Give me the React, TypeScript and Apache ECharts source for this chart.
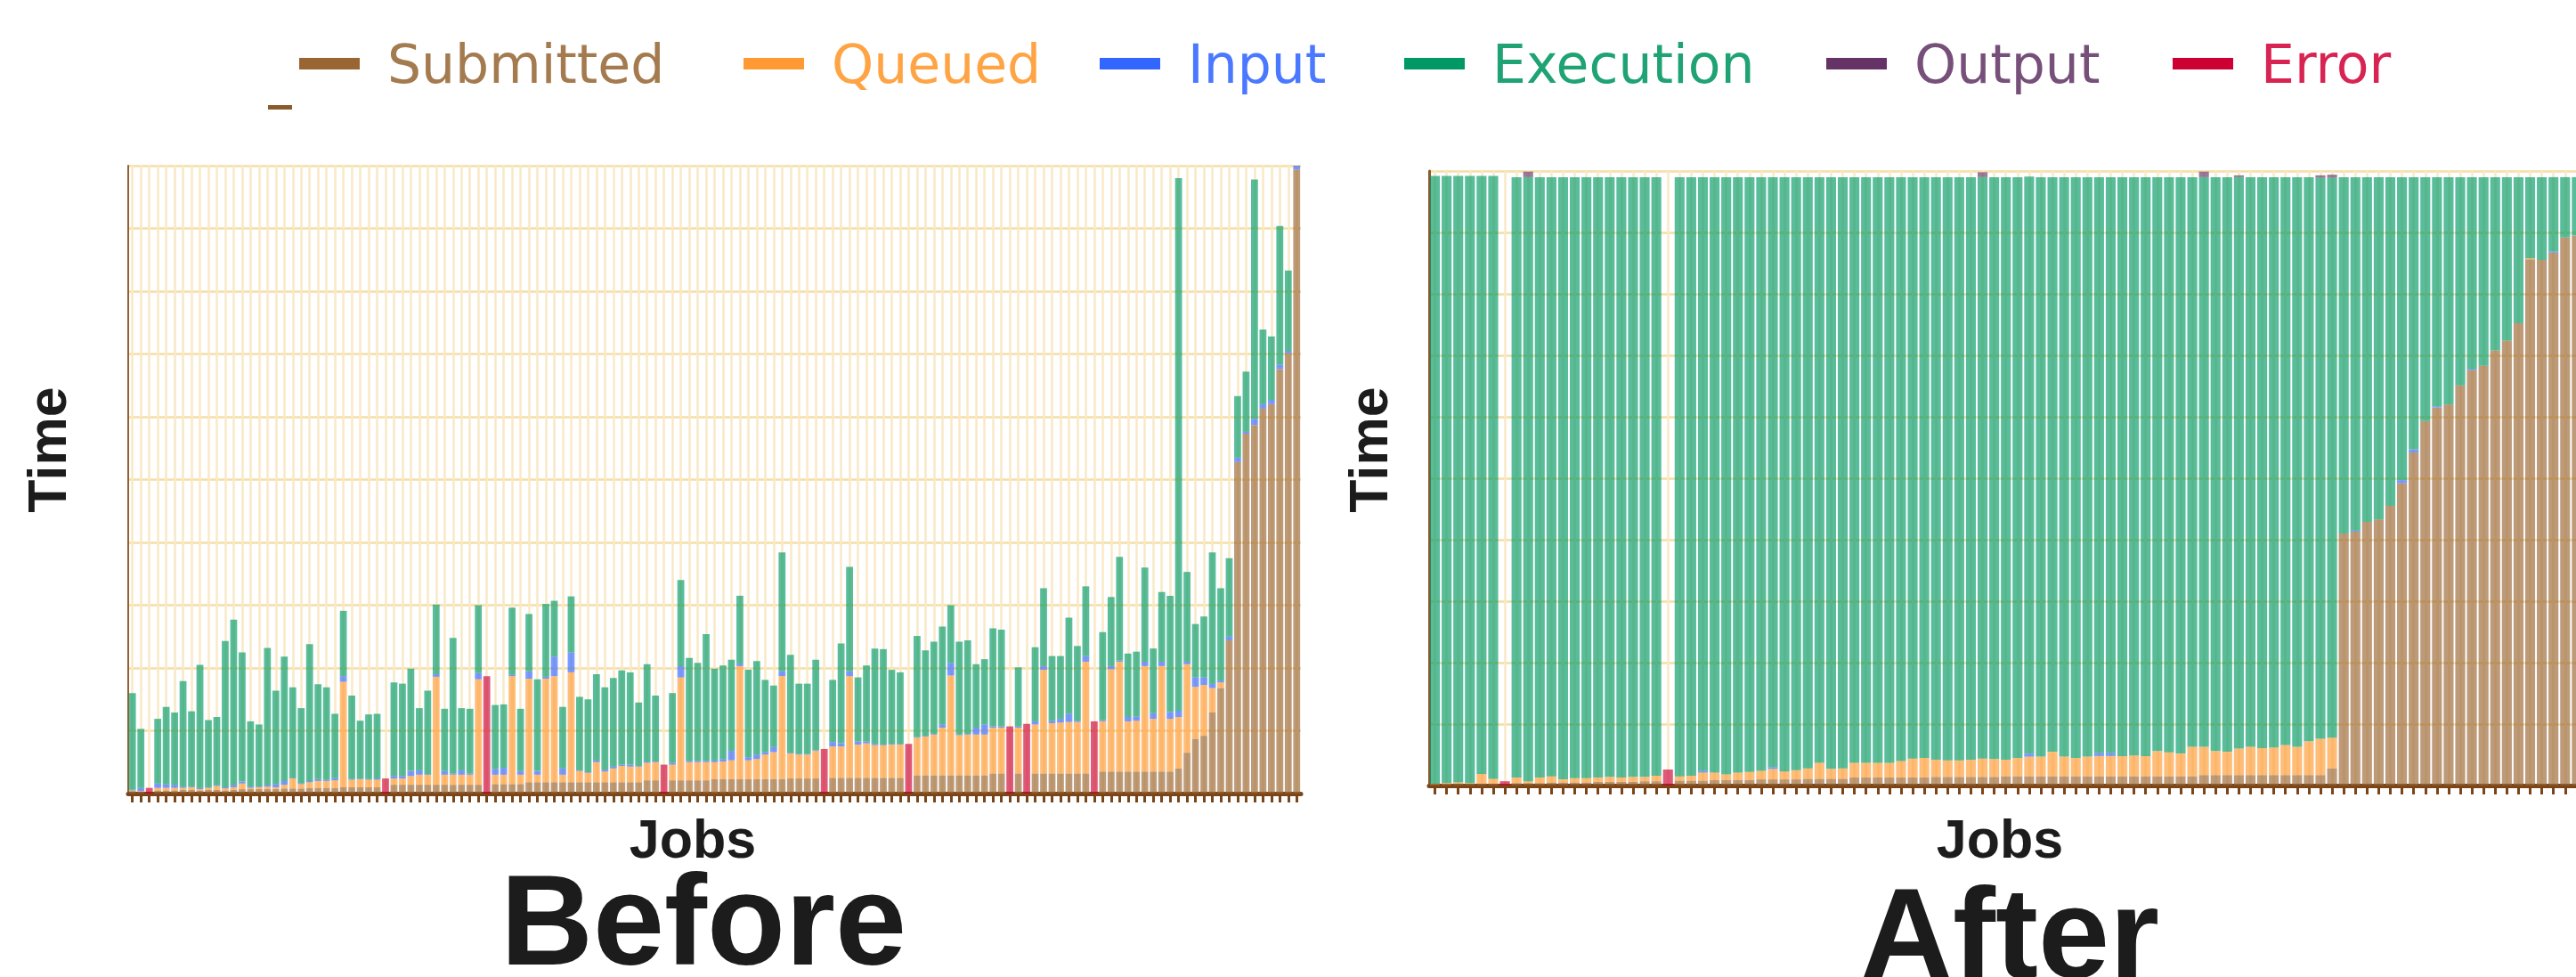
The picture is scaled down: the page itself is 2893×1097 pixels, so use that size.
import React, { useEffect, useRef } from "react";
import * as echarts from "echarts";

const STAGES = ["Submitted", "Queued", "Input", "Execution", "Output", "Error"];
const STAGE_COLORS = ["#996633", "#ff9933", "#3366ff", "#009966", "#663366", "#cc0033"];
const LEGEND_TEXT_COLORS = ["#a47a4f", "#ffa444", "#4a78ff", "#1fa374", "#77507a", "#d82452"];
const LEGEND_LEFT = [336, 835, 1235, 1577, 2051, 2440];

// ---------- BEFORE: cumulative stage tops per job (0 for failed jobs) ----------
const beforeSubmittedTop = [
  0.04, 0.03, 0, 0.05, 0.05, 0.05, 0.06, 0.06, 0.05, 0.06,
  0.06, 0.05, 0.06, 0.07, 0.07, 0.07, 0.07, 0.07, 0.08, 0.08,
  0.08, 0.09, 0.09, 0.09, 0.09, 0.1, 0.1, 0.1, 0.1, 0.1,
  0, 0.14, 0.14, 0.14, 0.14, 0.14, 0.14, 0.14, 0.14, 0.14,
  0.14, 0.14, 0, 0.15, 0.15, 0.15, 0.15, 0.18, 0.18, 0.18,
  0.18, 0.18, 0.18, 0.18, 0.18, 0.18, 0.18, 0.18, 0.18, 0.18,
  0.18, 0.21, 0.21, 0, 0.21, 0.21, 0.21, 0.21, 0.21, 0.23,
  0.23, 0.23, 0.23, 0.23, 0.23, 0.23, 0.23, 0.23, 0.24, 0.24,
  0.24, 0.24, 0, 0.25, 0.25, 0.25, 0.25, 0.25, 0.25, 0.25,
  0.25, 0.25, 0, 0.29, 0.29, 0.29, 0.29, 0.29, 0.29, 0.29,
  0.29, 0.29, 0.32, 0.32, 0, 0.32, 0, 0.32, 0.32, 0.32,
  0.32, 0.32, 0.32, 0.32, 0, 0.35, 0.35, 0.35, 0.35, 0.35,
  0.35, 0.35, 0.35, 0.35, 0.4, 0.65, 0.87, 0.92, 1.29, 1.68,
  2.44, 5.28, 5.73, 5.87, 6.13, 6.2, 6.76, 7.01, 9.94,
];
const beforeQueuedTop = [
  0.05, 0.04, 0, 0.09, 0.09, 0.09, 0.09, 0.1, 0.07, 0.09,
  0.12, 0.08, 0.1, 0.16, 0.09, 0.1, 0.11, 0.1, 0.14, 0.24,
  0.15, 0.18, 0.2, 0.2, 0.21, 1.78, 0.22, 0.23, 0.22, 0.22,
  0, 0.24, 0.24, 0.28, 0.3, 0.3, 1.86, 0.3, 0.3, 0.3,
  0.3, 1.82, 0, 0.3, 0.3, 1.87, 0.3, 1.83, 0.3, 1.83,
  1.87, 0.3, 1.93, 0.36, 0.33, 0.5, 0.35, 0.4, 0.44, 0.43,
  0.43, 0.49, 0.5, 0, 0.46, 1.85, 0.5, 0.5, 0.5, 0.5,
  0.51, 0.53, 2.03, 0.53, 0.55, 0.62, 0.66, 1.87, 0.64, 0.62,
  0.62, 0.68, 0, 0.75, 0.75, 1.87, 0.78, 0.8, 0.77, 0.77,
  0.78, 0.78, 0, 0.89, 0.91, 0.94, 1.05, 1.88, 0.93, 0.94,
  0.94, 0.94, 1.05, 1.05, 0, 1.05, 0, 1.1, 1.97, 1.12,
  1.13, 1.14, 1.14, 2.1, 0, 1.15, 1.98, 2.1, 1.15, 1.16,
  2.03, 1.19, 2.03, 1.19, 1.22, 2.06, 1.7, 1.73, 1.68, 1.77,
  2.44, 5.28, 5.73, 5.87, 6.13, 6.2, 6.76, 7.01, 9.94,
];
const beforeInputTop = [
  0.06, 0.09, 0, 0.16, 0.15, 0.14, 0.11, 0.11, 0.09, 0.1,
  0.13, 0.1, 0.14, 0.19, 0.11, 0.11, 0.14, 0.15, 0.2, 0.25,
  0.16, 0.2, 0.23, 0.22, 0.25, 1.87, 0.23, 0.24, 0.23, 0.24,
  0, 0.28, 0.28, 0.36, 0.37, 0.31, 1.9, 0.36, 0.32, 0.37,
  0.32, 1.92, 0, 0.39, 0.41, 1.89, 0.36, 1.95, 0.36, 1.86,
  2.18, 0.4, 2.25, 0.37, 0.34, 0.53, 0.38, 0.43, 0.46, 0.46,
  0.44, 0.51, 0.51, 0, 0.49, 2.03, 0.52, 0.52, 0.52, 0.53,
  0.55, 0.68, 2.07, 0.58, 0.62, 0.66, 0.74, 1.95, 0.65, 0.63,
  0.63, 0.69, 0, 0.82, 0.8, 1.95, 0.83, 0.83, 0.79, 0.78,
  0.79, 0.79, 0, 0.9, 0.92, 0.95, 1.1, 2.08, 0.94, 0.95,
  1.05, 1.1, 1.07, 1.07, 0, 1.07, 0, 1.15, 2.03, 1.16,
  1.19, 1.27, 1.16, 2.19, 0, 1.17, 2.03, 2.12, 1.22, 1.23,
  2.1, 1.28, 2.1, 1.3, 1.32, 2.1, 1.85, 1.85, 1.75, 1.8,
  2.5, 5.35, 5.76, 5.97, 6.2, 6.27, 6.83, 7.05, 10.0,
];
const beforeTotal = [
  1.6, 1.03, 0, 1.19, 1.38, 1.29, 1.79, 1.31, 2.05, 1.17,
  1.22, 2.43, 2.77, 2.25, 1.15, 1.1, 2.32, 1.64, 2.18, 1.69,
  1.36, 2.38, 1.74, 1.69, 1.27, 2.91, 1.56, 1.16, 1.26, 1.27,
  0, 1.77, 1.75, 1.99, 1.36, 1.64, 3.01, 1.35, 2.48, 1.36,
  1.35, 3.0, 0, 1.41, 1.42, 2.96, 1.35, 2.86, 1.82, 3.02,
  3.07, 1.38, 3.14, 1.54, 1.5, 1.9, 1.69, 1.84, 1.96, 1.93,
  1.45, 2.06, 1.56, 0, 1.6, 3.4, 2.16, 2.08, 2.54, 1.99,
  2.04, 2.13, 3.15, 1.97, 2.11, 1.81, 1.72, 3.84, 2.21, 1.75,
  1.75, 2.13, 0, 1.81, 2.39, 3.61, 1.85, 2.04, 2.31, 2.3,
  1.97, 1.93, 0, 2.51, 2.28, 2.42, 2.66, 3.0, 2.42, 2.44,
  2.06, 2.14, 2.63, 2.61, 0, 2.01, 0, 2.33, 3.27, 2.19,
  2.19, 2.8, 2.35, 3.3, 0, 2.57, 3.13, 3.77, 2.23, 2.26,
  3.6, 2.31, 3.21, 3.15, 9.8, 3.53, 2.7, 2.82, 3.84, 3.27,
  3.75, 6.33, 6.72, 9.78, 7.39, 7.28, 9.04, 8.33, 10.0,
];
const beforeError = [
  0, 0, 0.09, 0, 0, 0, 0, 0, 0, 0,
  0, 0, 0, 0, 0, 0, 0, 0, 0, 0,
  0, 0, 0, 0, 0, 0, 0, 0, 0, 0,
  0.24, 0, 0, 0, 0, 0, 0, 0, 0, 0,
  0, 0, 1.87, 0, 0, 0, 0, 0, 0, 0,
  0, 0, 0, 0, 0, 0, 0, 0, 0, 0,
  0, 0, 0, 0.46, 0, 0, 0, 0, 0, 0,
  0, 0, 0, 0, 0, 0, 0, 0, 0, 0,
  0, 0, 0.71, 0, 0, 0, 0, 0, 0, 0,
  0, 0, 0.79, 0, 0, 0, 0, 0, 0, 0,
  0, 0, 0, 0, 1.07, 0, 1.11, 0, 0, 0,
  0, 0, 0, 0, 1.15, 0, 0, 0, 0, 0,
  0, 0, 0, 0, 0, 0, 0, 0, 0, 0,
  0, 0, 0, 0, 0, 0, 0, 0, 0,
];

// ---------- AFTER ----------
const afterSubmittedTop = [
  0.02, 0.02, 0.03, 0.03, 0.03, 0.03, 0, 0.04, 0.04, 0.04,
  0.05, 0.05, 0.05, 0.05, 0.06, 0.06, 0.06, 0.06, 0.07, 0.07,
  0, 0.08, 0.08, 0.08, 0.09, 0.09, 0.09, 0.09, 0.1, 0.1,
  0.1, 0.1, 0.11, 0.11, 0.11, 0.11, 0.13, 0.13, 0.13, 0.13,
  0.13, 0.13, 0.13, 0.14, 0.14, 0.14, 0.14, 0.14, 0.14, 0.15,
  0.15, 0.15, 0.15, 0.15, 0.15, 0.15, 0.15, 0.15, 0.15, 0.15,
  0.15, 0.15, 0.15, 0.15, 0.15, 0.15, 0.17, 0.17, 0.17, 0.17,
  0.17, 0.17, 0.17, 0.17, 0.17, 0.17, 0.17, 0.28, 4.1, 4.13,
  4.29, 4.33, 4.55, 4.92, 5.42, 5.93, 6.15, 6.2, 6.51, 6.76,
  6.83, 7.08, 7.24, 7.52, 8.56, 8.55, 8.67, 8.92, 8.95,
];
const afterQueuedTop = [
  0.03, 0.04, 0.05, 0.04, 0.19, 0.11, 0, 0.13, 0.07, 0.13,
  0.15, 0.1, 0.12, 0.12, 0.13, 0.14, 0.13, 0.14, 0.14, 0.16,
  0, 0.15, 0.16, 0.21, 0.21, 0.18, 0.21, 0.22, 0.24, 0.27,
  0.23, 0.25, 0.28, 0.37, 0.27, 0.28, 0.37, 0.37, 0.37, 0.37,
  0.4, 0.44, 0.45, 0.42, 0.41, 0.41, 0.42, 0.44, 0.43, 0.42,
  0.45, 0.47, 0.47, 0.55, 0.47, 0.45, 0.47, 0.48, 0.48, 0.48,
  0.49, 0.48, 0.56, 0.54, 0.52, 0.63, 0.63, 0.56, 0.55, 0.6,
  0.63, 0.61, 0.62, 0.66, 0.63, 0.72, 0.76, 0.78, 4.1, 4.13,
  4.29, 4.33, 4.55, 4.92, 5.42, 5.93, 6.15, 6.2, 6.51, 6.76,
  6.83, 7.08, 7.24, 7.52, 8.58, 8.55, 8.67, 8.92, 8.95,
];
const afterInputTop = [
  0.03, 0.04, 0.05, 0.04, 0.19, 0.11, 0, 0.13, 0.07, 0.13,
  0.15, 0.1, 0.12, 0.12, 0.13, 0.14, 0.13, 0.14, 0.14, 0.16,
  0, 0.15, 0.16, 0.24, 0.21, 0.18, 0.21, 0.22, 0.24, 0.3,
  0.23, 0.25, 0.28, 0.37, 0.27, 0.28, 0.37, 0.37, 0.37, 0.37,
  0.4, 0.44, 0.45, 0.42, 0.41, 0.41, 0.42, 0.44, 0.43, 0.42,
  0.45, 0.52, 0.47, 0.55, 0.47, 0.45, 0.47, 0.53, 0.53, 0.48,
  0.49, 0.48, 0.56, 0.54, 0.52, 0.63, 0.63, 0.56, 0.55, 0.6,
  0.63, 0.61, 0.62, 0.66, 0.63, 0.72, 0.76, 0.78, 4.1, 4.15,
  4.29, 4.33, 4.55, 4.97, 5.47, 5.93, 6.17, 6.2, 6.51, 6.78,
  6.83, 7.08, 7.24, 7.52, 8.58, 8.55, 8.69, 8.92, 8.95,
];
const afterTotal = [
  9.92, 9.92, 9.92, 9.92, 9.92, 9.92, 0, 9.9, 9.9, 9.9,
  9.9, 9.9, 9.9, 9.9, 9.9, 9.9, 9.9, 9.9, 9.9, 9.9,
  0, 9.9, 9.9, 9.9, 9.9, 9.9, 9.9, 9.9, 9.9, 9.9,
  9.9, 9.9, 9.9, 9.9, 9.9, 9.9, 9.9, 9.9, 9.9, 9.9,
  9.9, 9.9, 9.9, 9.9, 9.9, 9.9, 9.9, 9.9, 9.9, 9.9,
  9.9, 9.91, 9.9, 9.9, 9.9, 9.9, 9.9, 9.9, 9.9, 9.9,
  9.9, 9.9, 9.9, 9.9, 9.9, 9.9, 9.9, 9.9, 9.9, 9.9,
  9.9, 9.9, 9.9, 9.9, 9.9, 9.9, 9.89, 9.89, 9.9, 9.9,
  9.9, 9.9, 9.9, 9.9, 9.9, 9.9, 9.9, 9.9, 9.9, 9.9,
  9.9, 9.9, 9.9, 9.9, 9.9, 9.9, 9.9, 9.9, 9.9,
];
const afterOutput = [
  0, 0, 0, 0, 0, 0, 0, 0, 0.09, 0,
  0, 0, 0, 0, 0, 0, 0, 0, 0, 0,
  0, 0, 0, 0, 0, 0, 0, 0, 0, 0,
  0, 0, 0, 0, 0, 0, 0, 0, 0, 0,
  0, 0, 0, 0, 0, 0, 0, 0.08, 0, 0,
  0, 0, 0, 0, 0, 0, 0, 0, 0, 0,
  0, 0, 0, 0, 0, 0, 0.09, 0, 0, 0.03,
  0, 0, 0, 0, 0, 0, 0.04, 0.05, 0, 0,
  0, 0, 0, 0, 0, 0, 0, 0, 0, 0,
  0, 0, 0, 0, 0, 0, 0, 0, 0,
];
const afterError = [
  0, 0, 0, 0, 0, 0, 0.07, 0, 0, 0,
  0, 0, 0, 0, 0, 0, 0, 0, 0, 0,
  0.26, 0, 0, 0, 0, 0, 0, 0, 0, 0,
  0, 0, 0, 0, 0, 0, 0, 0, 0, 0,
  0, 0, 0, 0, 0, 0, 0, 0, 0, 0,
  0, 0, 0, 0, 0, 0, 0, 0, 0, 0,
  0, 0, 0, 0, 0, 0, 0, 0, 0, 0,
  0, 0, 0, 0, 0, 0, 0, 0, 0, 0,
  0, 0, 0, 0, 0, 0, 0, 0, 0, 0,
  0, 0, 0, 0, 0, 0, 0, 0, 0,
];

const beforeJobs = beforeTotal.map((_, i) => `Job ${i + 1}`);
const afterJobs = afterTotal.map((_, i) => `Job ${i + 1}`);

const seg = (top: number[], base: number[] | null) =>
  top.map((v, i) => Math.max(0, +(v - (base ? base[i] : 0)).toFixed(3)));

const AXIS_BROWN = "#7a4519";
const H_GRID = "#f5dea6";
const V_GRID = "#f8e9c6";
const TITLE_FONT = '"Liberation Sans", Arial, sans-serif';

export default function App() {
  const ref = useRef<HTMLDivElement>(null);

  useEffect(() => {
    if (!ref.current) return;
    const chart = echarts.init(ref.current, null, { renderer: "svg" });

    const beforeSegs = [
      seg(beforeSubmittedTop, null),
      seg(beforeQueuedTop, beforeSubmittedTop),
      seg(beforeInputTop, beforeQueuedTop),
      seg(beforeTotal, beforeInputTop),
      [] as number[],
      beforeError,
    ];
    const afterSegs = [
      seg(afterSubmittedTop, null),
      seg(afterQueuedTop, afterSubmittedTop),
      seg(afterInputTop, afterQueuedTop),
      seg(afterTotal, afterInputTop),
      afterOutput,
      afterError,
    ];

    const makeX = (gridIndex: number, data: string[]) => ({
      gridIndex,
      type: "category",
      data,
      axisLine: { show: true, lineStyle: { color: AXIS_BROWN, width: 5 } },
      axisTick: {
        show: true,
        interval: 0,
        alignWithLabel: true,
        length: 10,
        lineStyle: { color: AXIS_BROWN, width: 3 },
      },
      axisLabel: { show: false },
      splitLine: {
        show: true,
        interval: 0,
        alignWithLabel: true,
        lineStyle: { color: V_GRID, width: 2.5 },
      },
    });
    const makeY = (gridIndex: number, lineColor: string, lineWidth: number) => ({
      gridIndex,
      type: "value",
      min: 0,
      max: 10,
      interval: 1,
      axisLine: { show: true, lineStyle: { color: lineColor, width: lineWidth } },
      axisTick: { show: false },
      axisLabel: { show: false },
      splitLine: { show: true, lineStyle: { color: H_GRID, width: 2.5 } },
    });

    const series: any[] = [];
    STAGES.forEach((name, s) => {
      series.push({
        name,
        type: "bar",
        xAxisIndex: 0,
        yAxisIndex: 0,
        stack: "before",
        barCategoryGap: "18%",
        data: beforeSegs[s],
        itemStyle: { color: STAGE_COLORS[s], opacity: 0.65 },
      });
    });
    STAGES.forEach((name, s) => {
      series.push({
        name,
        type: "bar",
        xAxisIndex: 1,
        yAxisIndex: 1,
        stack: "after",
        barCategoryGap: "15%",
        data: afterSegs[s],
        itemStyle: { color: STAGE_COLORS[s], opacity: 0.65 },
      });
    });

    const titleText = (text: string, x: number, y: number, size: number, rotate = false) => ({
      type: "text",
      x,
      y,
      rotation: rotate ? Math.PI / 2 : 0,
      silent: true,
      style: {
        text,
        font: `bold ${size}px ${TITLE_FONT}`,
        fill: "#1c1c1c",
        align: "center",
        verticalAlign: "middle",
        textAlign: "center",
        textVerticalAlign: "middle",
      },
    });

    const option: any = {
      animation: false,
      backgroundColor: "#ffffff",
      legend: STAGES.map((name, i) => ({
        data: [name],
        left: LEGEND_LEFT[i],
        top: 41.5,
        padding: 0,
        itemGap: 0,
        itemWidth: 68,
        itemHeight: 13,
        icon: "rect",
        selectedMode: false,
        itemStyle: { color: STAGE_COLORS[i], opacity: 1 },
        textStyle: {
          color: LEGEND_TEXT_COLORS[i],
          fontFamily: '"DejaVu Sans", sans-serif',
          fontSize: 60,
          lineHeight: 60,
          padding: [0, 0, 0, 26],
        },
      })),
      grid: [
        { left: 144, top: 186, width: 1317, height: 705, containLabel: false, outerBoundsMode: "none" },
        { left: 1605, top: 192, width: 1295.4, height: 690, containLabel: false, outerBoundsMode: "none" },
      ],
      xAxis: [makeX(0, beforeJobs), makeX(1, afterJobs)],
      yAxis: [makeY(0, "#8f6336", 2), makeY(1, "#8b5a2b", 3)],
      series,
      graphic: [
        { type: "rect", silent: true, shape: { x: 301, y: 118, width: 27, height: 5 }, style: { fill: "#8b5a2b" } },
        titleText("Time", 53, 505, 61, true),
        titleText("Time", 1537, 505, 61, true),
        titleText("Jobs", 778, 942, 61),
        titleText("Jobs", 2246, 942, 61),
        titleText("Before", 790, 1033, 144),
        titleText("After", 2257, 1048, 144),
      ],
    };

    chart.setOption(option);
    return () => chart.dispose();
  }, []);

  return (
    <div
      ref={ref}
      style={{ position: "absolute", left: 0, top: 0, width: 2893, height: 1097, background: "#fff" }}
    />
  );
}
